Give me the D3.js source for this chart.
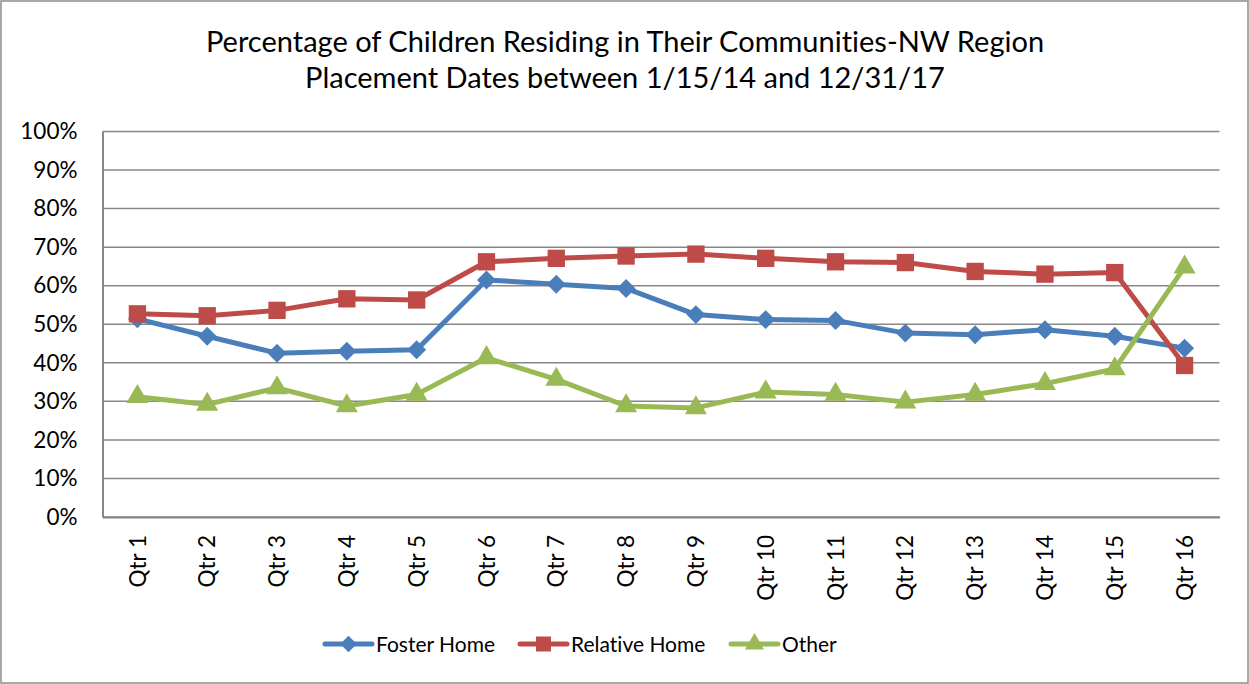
<!DOCTYPE html>
<html>
<head>
<meta charset="utf-8">
<script src="https://cdn.jsdelivr.net/npm/d3@7"></script>
<style>
  body { margin: 0; background: #fff; }
  svg text { font-family: Lato, "Open Sans", sans-serif; fill: #000; font-variant-ligatures: none; }
</style>
</head>
<body>
<div id="chart"></div>
<script>
// Chart data
const quarters = ["Qtr 1", "Qtr 2", "Qtr 3", "Qtr 4", "Qtr 5", "Qtr 6", "Qtr 7", "Qtr 8",
  "Qtr 9", "Qtr 10", "Qtr 11", "Qtr 12", "Qtr 13", "Qtr 14", "Qtr 15", "Qtr 16"];
const fosterHome = [51.4, 46.9, 42.5, 43.0, 43.4, 61.5, 60.4, 59.3, 52.5, 51.2, 51.0, 47.7, 47.3, 48.6, 46.9, 43.8];
const relativeHome = [52.7, 52.2, 53.6, 56.6, 56.3, 66.2, 67.1, 67.7, 68.2, 67.1, 66.2, 66.0, 63.7, 63.0, 63.4, 39.3];
const other = [31.2, 29.2, 33.5, 28.8, 31.8, 41.3, 35.7, 28.8, 28.3, 32.4, 31.8, 29.8, 31.8, 34.6, 38.4, 64.8];
const yTicks = [0, 10, 20, 30, 40, 50, 60, 70, 80, 90, 100];
const titleLines = ["Percentage of Children Residing in Their Communities-NW Region",
  "Placement Dates between 1/15/14 and 12/31/17"];

const series = [
  { name: "Foster Home", values: fosterHome, color: "#4a7ebb", symbol: "diamond" },
  { name: "Relative Home", values: relativeHome, color: "#be4b48", symbol: "square" },
  { name: "Other", values: other, color: "#98b954", symbol: "triangle" }
];

const width = 1249, height = 684;
const margin = { top: 131.5, right: 29.5, bottom: 167, left: 102.5 };

const svg = d3.select("#chart").append("svg")
  .attr("width", width)
  .attr("height", height);

// outer chart border
svg.append("rect")
  .attr("x", 1).attr("y", 1)
  .attr("width", width - 2).attr("height", height - 2)
  .attr("fill", "#fff")
  .attr("stroke", "#8c8c8c")
  .attr("stroke-width", 1.5);

// title
svg.append("g")
  .selectAll("text")
  .data(titleLines)
  .join("text")
  .attr("x", 625)
  .attr("y", (d, i) => 52 + i * 36)
  .attr("text-anchor", "middle")
  .style("font-size", "29px")
  .text(d => d);

const x = d3.scaleBand()
  .domain(quarters)
  .range([margin.left, width - margin.right]);

const y = d3.scaleLinear()
  .domain([0, 100])
  .range([height - margin.bottom, margin.top]);

// gridlines
svg.append("g")
  .selectAll("line")
  .data(yTicks)
  .join("line")
  .attr("x1", margin.left)
  .attr("x2", width - margin.right)
  .attr("y1", d => y(d))
  .attr("y2", d => y(d))
  .attr("stroke", "#878787")
  .attr("stroke-width", 1.5);

// y axis
const yAxis = svg.append("g")
  .attr("transform", `translate(${margin.left},0)`)
  .call(d3.axisLeft(y).tickValues(yTicks).tickFormat(d => d + "%").tickSize(0).tickPadding(25));
yAxis.select(".domain").attr("stroke", "#878787").attr("stroke-width", 2);
yAxis.selectAll("text").style("font-size", "22.5px").attr("fill", "#000");

// x axis
const xAxis = svg.append("g")
  .attr("transform", `translate(0,${height - margin.bottom})`)
  .call(d3.axisBottom(x).tickSize(0));
xAxis.select(".domain").attr("stroke", "#878787").attr("stroke-width", 2);
xAxis.selectAll("text")
  .style("font-size", "22.5px")
  .attr("fill", "#000")
  .attr("text-anchor", "end")
  .attr("transform", "rotate(-90)")
  .attr("x", -18)
  .attr("y", 0)
  .attr("dy", "0.36em");

function symbolPath(type, scale) {
  if (type === "diamond") return d3.symbol(d3.symbolSquare, 180 * scale)();
  if (type === "square") return d3.symbol(d3.symbolSquare, 300 * scale)();
  return d3.symbol(d3.symbolTriangle, 210 * scale)();
}
function symbolTransform(type, px, py) {
  return type === "diamond" ? `translate(${px},${py}) rotate(45)` : `translate(${px},${py})`;
}

const line = d3.line()
  .x((d, i) => x(quarters[i]) + x.bandwidth() / 2)
  .y(d => y(d));

// series lines and markers
series.forEach(s => {
  const g = svg.append("g");
  g.append("path")
    .datum(s.values)
    .attr("d", line)
    .attr("fill", "none")
    .attr("stroke", s.color)
    .attr("stroke-width", 5)
    .attr("stroke-linejoin", "round");
  g.selectAll("path.marker")
    .data(s.values)
    .join("path")
    .attr("class", "marker")
    .attr("d", symbolPath(s.symbol, 1))
    .attr("transform", (d, i) => symbolTransform(s.symbol, x(quarters[i]) + x.bandwidth() / 2, y(d)))
    .attr("fill", s.color);
});

// legend
const legendX = [325, 520, 731];
const legend = svg.append("g")
  .selectAll("g")
  .data(series)
  .join("g")
  .attr("transform", (d, i) => `translate(${legendX[i]},644)`);
legend.append("line")
  .attr("x1", 0).attr("x2", 47)
  .attr("stroke", d => d.color)
  .attr("stroke-width", 5)
  .attr("stroke-linecap", "round");
legend.append("path")
  .attr("d", d => symbolPath(d.symbol, 0.75))
  .attr("transform", d => symbolTransform(d.symbol, 23.5, 0))
  .attr("fill", d => d.color);
legend.append("text")
  .attr("x", 51)
  .attr("dy", "0.36em")
  .style("font-size", "21px")
  .text(d => d.name);
</script>
</body>
</html>
